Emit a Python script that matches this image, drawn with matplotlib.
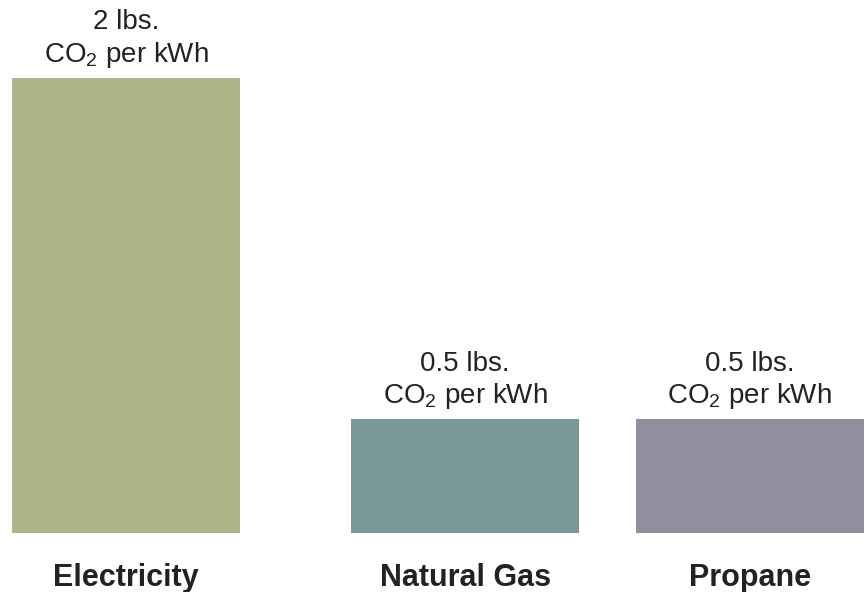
import matplotlib
matplotlib.use("Agg")
import matplotlib.pyplot as plt

categories = ["Electricity", "Natural Gas", "Propane"]
co2_lbs = [2, 0.5, 0.5]
value_labels = ["2 lbs.", "0.5 lbs.", "0.5 lbs."]
bar_colors = ["#AFB38A", "#779896", "#908E9F"]
# uneven spacing, like the original
positions = [0, 1.487, 2.735]

plt.rcParams["font.family"] = ["Liberation Sans", "DejaVu Sans"]
plt.rcParams["mathtext.fontset"] = "custom"
plt.rcParams["mathtext.rm"] = "Liberation Sans"

fig = plt.figure(figsize=(8.67, 5.92), dpi=100)
ax = fig.add_axes([0, 1 - 533 / 592, 1, 533 / 592])

ax.bar(positions, co2_lbs, width=1.0, color=bar_colors)

for x, h, lab in zip(positions, co2_lbs, value_labels):
    ax.annotate(f"{lab}\nCO$_\\mathrm{{2}}$ per kWh", xy=(x, h),
                xytext=(0, 6), textcoords="offset points",
                ha="center", va="bottom", fontsize=20,
                color="#222222", linespacing=1.2)

ax.set_xlim(-0.553, 867 / 228 - 0.553)
ax.set_ylim(0, 533 / 227.5)
ax.set_xticks(positions)
ax.set_xticklabels(categories, fontsize=22, fontweight="bold", color="#222222")
ax.tick_params(axis="x", length=0, pad=21.5)
ax.set_yticks([])
for s in ax.spines.values():
    s.set_visible(False)

fig.savefig("out.png", dpi=100)
